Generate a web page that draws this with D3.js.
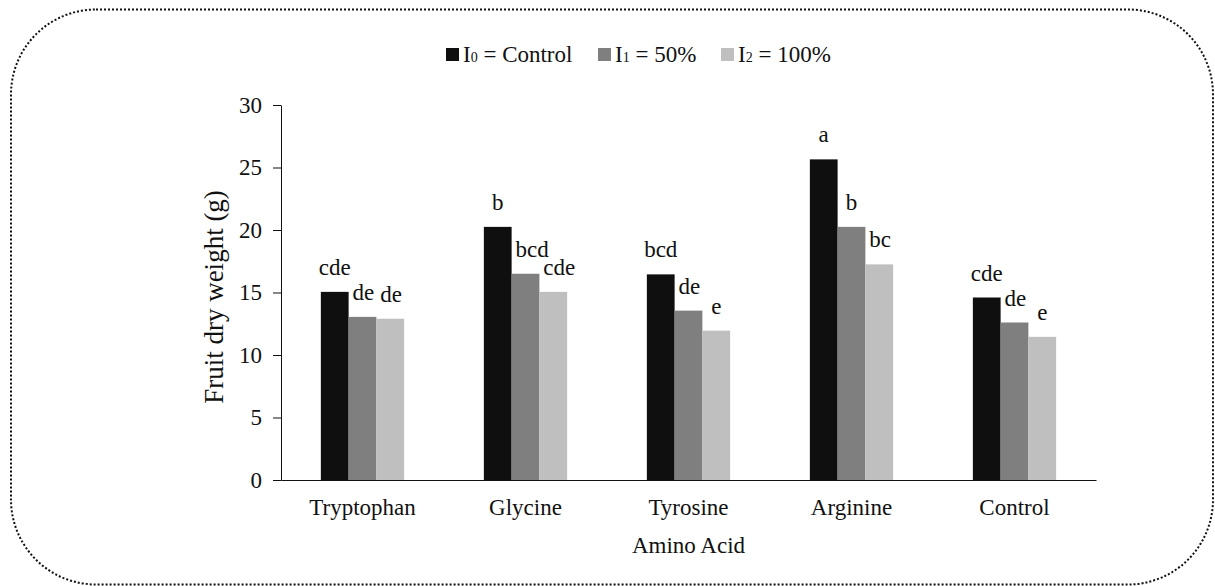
<!DOCTYPE html>
<html>
<head>
<meta charset="utf-8">
<script src="https://cdn.jsdelivr.net/npm/d3@7"></script>
<style>
    body { margin: 0; background: #fff; }
    svg { display: block; font-family: "Liberation Serif", "Times New Roman", serif; }
</style>
</head>
<body>
<div class="chart"></div>
<script>
const categories = ["Tryptophan", "Glycine", "Tyrosine", "Arginine", "Control"];
const seriesNames = ["I0", "I1", "I2"];
const seriesLabels = [["I", "0", " = Control"], ["I", "1", " = 50%"], ["I", "2", " = 100%"]];
const seriesColors = ["#0f0f0f", "#7f7f7f", "#bfbfbf"];
const valuesI0 = [15.05, 20.25, 16.45, 25.65, 14.6];
const valuesI1 = [13.05, 16.5, 13.55, 20.25, 12.6];
const valuesI2 = [12.9, 15.05, 11.95, 17.25, 11.45];
const lettersI0 = ["cde", "b", "bcd", "a", "cde"];
const lettersI1 = ["de", "bcd", "de", "b", "de"];
const lettersI2 = ["de", "cde", "e", "bc", "e"];
const yTicks = [0, 5, 10, 15, 20, 25, 30];

const svgW = 1215;
const svgH = 586;
const margin = {top: 105, right: 119, bottom: 106, left: 281};
const fontSize = 23;
const font = "Liberation Serif";

const values = [valuesI0, valuesI1, valuesI2];
const letters = [lettersI0, lettersI1, lettersI2];

const svg = d3.select("div.chart")
    .append("svg")
        .attr("width", svgW)
        .attr("height", svgH);

// dotted rounded frame
svg.append("rect")
    .attr("x", 11)
    .attr("y", 9.5)
    .attr("width", 1202)
    .attr("height", 575)
    .attr("rx", 85)
    .attr("ry", 85)
    .attr("fill", "none")
    .attr("stroke", "#111")
    .attr("stroke-width", 2)
    .attr("stroke-dasharray", "2,2");

const y = d3.scaleLinear()
    .domain([0, 30])
    .range([svgH - margin.bottom, margin.top]);

const x0 = d3.scaleBand()
    .domain(categories)
    .range([margin.left, svgW - margin.right])
    .paddingInner(0.489)
    .paddingOuter(0.2445);

const x1 = d3.scaleBand()
    .domain(seriesNames)
    .range([0, x0.bandwidth()]);

// bars
const groups = svg.selectAll("g.group")
    .data(categories)
    .join("g")
    .attr("class", "group")
    .attr("transform", d => `translate(${x0(d)},0)`);

groups.selectAll("rect")
    .data((c, i) => seriesNames.map((s, j) => ({s: s, j: j, v: values[j][i]})))
    .join("rect")
    .attr("x", d => x1(d.s))
    .attr("y", d => y(d.v))
    .attr("width", x1.bandwidth())
    .attr("height", d => y(0) - y(d.v))
    .attr("fill", d => seriesColors[d.j]);

// significance letters, nudged right when they would hit the bar on their left
groups.each(function(c, i) {
    const g = d3.select(this);
    seriesNames.forEach((s, j) => {
        const v = values[j][i];
        const cx = x1(s) + x1.bandwidth() / 2;
        const t = g.append("text")
            .attr("x", cx)
            .attr("y", y(v) - 17)
            .attr("text-anchor", "middle")
            .attr("font-family", font)
            .attr("font-size", fontSize)
            .attr("fill", "#111")
            .text(letters[j][i]);
        if (j > 0 && values[j - 1][i] > v) {
            const w = t.node().getComputedTextLength();
            const prevRight = x1(seriesNames[j - 1]) + x1.bandwidth();
            if (cx - w / 2 < prevRight + 4) {
                t.attr("x", prevRight + 4 + w / 2);
            }
        }
    });
});

// y axis
const yAxis = svg.append("g")
    .attr("transform", `translate(${margin.left},0)`)
    .call(d3.axisLeft(y).tickValues(yTicks).tickSize(8).tickPadding(11).tickSizeOuter(0));
yAxis.attr("font-family", font).attr("font-size", fontSize);
yAxis.selectAll("text").attr("fill", "#111");
yAxis.selectAll("line, path").attr("stroke", "#111");

// x axis
const xAxis = svg.append("g")
    .attr("transform", `translate(0,${y(0)})`)
    .call(d3.axisBottom(x0).tickSize(0).tickSizeOuter(0).tickPadding(19));
xAxis.attr("font-family", font).attr("font-size", fontSize);
xAxis.selectAll("text").attr("fill", "#111");
xAxis.select("path").attr("stroke", "#111");

// axis titles
svg.append("text")
    .attr("x", (margin.left + svgW - margin.right) / 2)
    .attr("y", 553)
    .attr("text-anchor", "middle")
    .attr("font-family", font)
    .attr("font-size", fontSize)
    .attr("fill", "#111")
    .text("Amino Acid");

svg.append("text")
    .attr("transform", "translate(223,297) rotate(-90)")
    .attr("text-anchor", "middle")
    .attr("font-family", font)
    .attr("font-size", 27)
    .attr("fill", "#111")
    .text("Fruit dry weight (g)");

// legend
const legendX = [446, 598, 721];
const legend = svg.selectAll("g.legend")
    .data(seriesNames)
    .join("g")
    .attr("class", "legend")
    .attr("transform", (d, i) => `translate(${legendX[i]},48)`);

legend.append("rect")
    .attr("width", 13)
    .attr("height", 13)
    .attr("fill", (d, i) => seriesColors[i]);

const lt = legend.append("text")
    .attr("x", 17)
    .attr("y", 13.5)
    .attr("font-family", font)
    .attr("font-size", fontSize)
    .attr("fill", "#111");
lt.each(function(d, i) {
    const parts = seriesLabels[i];
    const t = d3.select(this);
    t.append("tspan").text(parts[0]);
    t.append("tspan").attr("font-size", 14).text(parts[1]);
    t.append("tspan").text(parts[2]);
});
</script>
</body>
</html>
